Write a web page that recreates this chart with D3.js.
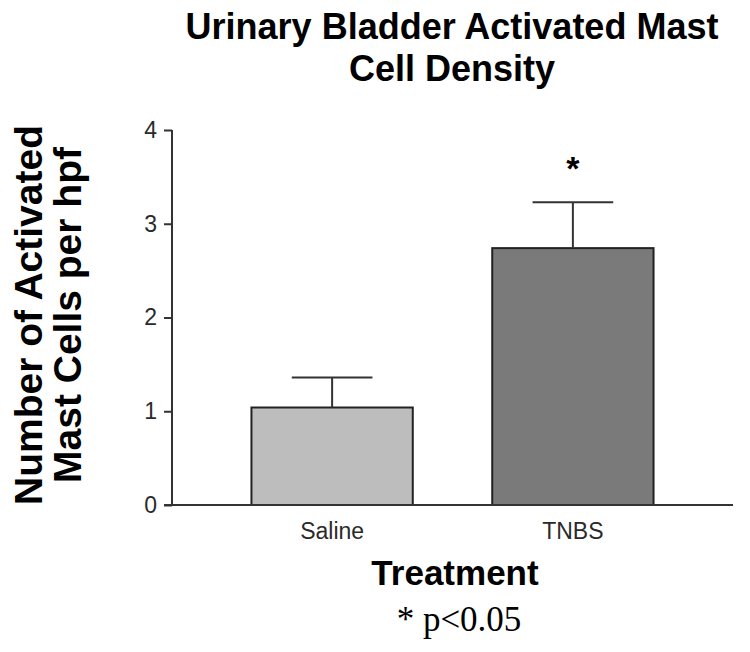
<!DOCTYPE html>
<html lang="en">
<head>
    <meta charset="UTF-8">
    <title>Urinary Bladder Activated Mast Cell Density</title>
    <script src="https://d3js.org/d3.v7.min.js"></script>
    <style>
        body {
            margin: 0;
            background: #fff;
        }
        .tick text {
            font-family: Arial, 'Liberation Sans', sans-serif;
            font-size: 23px;
            fill: #2a2a2a;
        }
        .axis path, .axis line {
            stroke: #333;
            stroke-width: 2;
        }
    </style>
</head>
<body>
<div id="chart"></div>
<script>
    // data
    const groups = ["Saline", "TNBS"];
    const means = [1.04, 2.74];
    const sems = [0.32, 0.49];
    const barColors = ["#bdbdbd", "#7a7a7a"];
    const significant = [false, true];
    const yTicks = [0, 1, 2, 3, 4];

    const W = 750, H = 652;
    const margin = { top: 130, right: 17, bottom: 147, left: 172 };
    const width = W - margin.left - margin.right;
    const height = H - margin.top - margin.bottom;

    const svg = d3.select("#chart")
        .append("svg")
        .attr("width", W)
        .attr("height", H);

    // title
    const title = svg.append("text")
        .attr("text-anchor", "middle")
        .style("font-family", "Arial, 'Liberation Sans', sans-serif")
        .style("font-weight", "bold")
        .style("font-size", "36px");
    title.append("tspan").attr("x", 452).attr("y", 39).text("Urinary Bladder Activated Mast");
    title.append("tspan").attr("x", 452).attr("y", 81).text("Cell Density");

    const g = svg.append("g")
        .attr("transform", `translate(${margin.left},${margin.top})`);

    const x = d3.scaleBand()
        .domain(groups)
        .range([0, width])
        .paddingInner(0.33)
        .paddingOuter(0.33);

    const y = d3.scaleLinear()
        .domain([0, 4])
        .range([height, 0]);

    // bars
    g.selectAll(".bar")
        .data(groups)
        .enter()
        .append("rect")
        .attr("class", "bar")
        .attr("x", d => x(d))
        .attr("y", (d, i) => y(means[i]))
        .attr("width", x.bandwidth())
        .attr("height", (d, i) => height - y(means[i]))
        .attr("fill", (d, i) => barColors[i])
        .attr("stroke", "#222")
        .attr("stroke-width", 2);

    // error bars (upper only)
    const err = g.selectAll(".err")
        .data(groups)
        .enter()
        .append("g")
        .attr("class", "err")
        .attr("stroke", "#333")
        .attr("stroke-width", 2);
    err.append("line")
        .attr("x1", d => x(d) + x.bandwidth() / 2)
        .attr("x2", d => x(d) + x.bandwidth() / 2)
        .attr("y1", (d, i) => y(means[i]))
        .attr("y2", (d, i) => y(means[i] + sems[i]));
    err.append("line")
        .attr("x1", d => x(d) + x.bandwidth() / 4)
        .attr("x2", d => x(d) + x.bandwidth() * 3 / 4)
        .attr("y1", (d, i) => y(means[i] + sems[i]))
        .attr("y2", (d, i) => y(means[i] + sems[i]));

    // significance star
    g.selectAll(".star")
        .data(groups.filter((d, i) => significant[i]))
        .enter()
        .append("text")
        .attr("class", "star")
        .attr("x", d => x(d) + x.bandwidth() / 2)
        .attr("y", d => y(means[groups.indexOf(d)] + sems[groups.indexOf(d)]) - 22)
        .attr("text-anchor", "middle")
        .style("font-family", "Arial, 'Liberation Sans', sans-serif")
        .style("font-weight", "bold")
        .style("font-size", "34px")
        .text("*");

    // y axis
    g.append("g")
        .attr("class", "axis")
        .call(d3.axisLeft(y).tickValues(yTicks).tickFormat(d3.format("d")).tickSize(8).tickPadding(7))
        .call(a => a.select(".domain").attr("d", `M0,${y(4)}V${height}`));

    // x axis: plain baseline
    g.append("g")
        .attr("class", "axis")
        .attr("transform", `translate(0,${height})`)
        .call(d3.axisBottom(x).tickSize(0).tickPadding(18))
        .call(a => a.select(".domain").attr("d", `M-8,0H${width}`));

    // axis titles
    svg.append("text")
        .attr("text-anchor", "middle")
        .attr("x", 455)
        .attr("y", 585)
        .style("font-family", "Arial, 'Liberation Sans', sans-serif")
        .style("font-weight", "bold")
        .style("font-size", "35px")
        .text("Treatment");

    const ylab = svg.append("text")
        .attr("text-anchor", "middle")
        .attr("transform", "translate(0,315) rotate(-90)")
        .style("font-family", "Arial, 'Liberation Sans', sans-serif")
        .style("font-weight", "bold")
        .style("font-size", "39px");
    ylab.append("tspan").attr("x", 0).attr("y", 42).text("Number of Activated");
    ylab.append("tspan").attr("x", 0).attr("y", 81).text("Mast Cells per hpf");

    svg.append("text")
        .attr("text-anchor", "middle")
        .attr("x", 459)
        .attr("y", 631)
        .style("font-family", "'Liberation Serif', 'Times New Roman', serif")
        .style("font-size", "35px")
        .text("* p<0.05");
</script>
</body>
</html>
